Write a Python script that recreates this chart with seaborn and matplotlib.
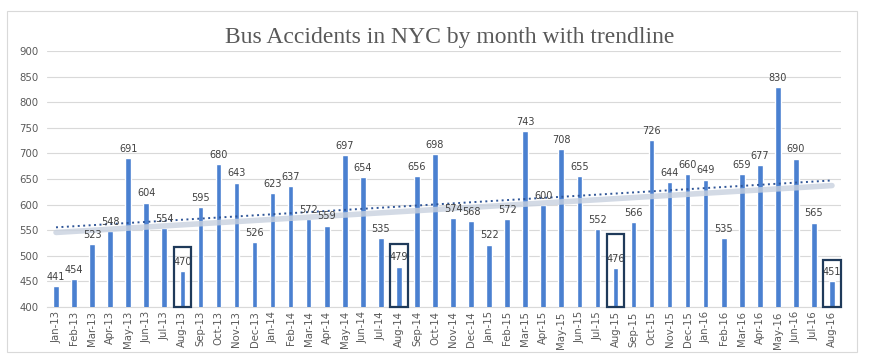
import numpy as np
import pandas as pd
import matplotlib.pyplot as plt
import seaborn as sns
from matplotlib.patches import Rectangle

# monthly bus accidents, Jan-13 .. Aug-16
months = [
    "Jan-13", "Feb-13", "Mar-13", "Apr-13", "May-13", "Jun-13", "Jul-13", "Aug-13",
    "Sep-13", "Oct-13", "Nov-13", "Dec-13",
    "Jan-14", "Feb-14", "Mar-14", "Apr-14", "May-14", "Jun-14", "Jul-14", "Aug-14",
    "Sep-14", "Oct-14", "Nov-14", "Dec-14",
    "Jan-15", "Feb-15", "Mar-15", "Apr-15", "May-15", "Jun-15", "Jul-15", "Aug-15",
    "Sep-15", "Oct-15", "Nov-15", "Dec-15",
    "Jan-16", "Feb-16", "Mar-16", "Apr-16", "May-16", "Jun-16", "Jul-16", "Aug-16",
]
accidents = [
    441, 454, 523, 548, 691, 604, 554, 470, 595, 680, 643, 526,
    623, 637, 572, 559, 697, 654, 535, 479, 656, 698, 574, 568,
    522, 572, 743, 600, 708, 655, 552, 476, 566, 726, 644, 660,
    649, 535, 659, 677, 830, 690, 565, 451,
]
# August months get a box around them
highlight_months = ["Aug-13", "Aug-14", "Aug-15", "Aug-16"]
highlight_tops = [518, 523, 543, 491]

yticks = list(range(400, 901, 50))

df = pd.DataFrame({"month": months, "accidents": accidents})

sns.set_style("white")
plt.rcParams["font.family"] = ["DejaVu Sans"]

fig = plt.figure(figsize=(8.76, 3.61), dpi=100)
ax = fig.add_axes([47 / 876, 1 - 307 / 361, (841 - 47) / 876, (307 - 51) / 361])

bar_color = "#4a80d0"
sns.barplot(data=df, x="month", y="accidents", color=bar_color, width=0.31,
            saturation=1, ax=ax, zorder=3)

ax.set_ylim(400, 900)
ax.set_xlim(-0.5, len(months) - 0.5)
ax.set_yticks(yticks)
ax.grid(axis="y", color="#d9d9d9", linewidth=0.8, zorder=0)
ax.set_axisbelow(True)
for s in ["top", "right", "left"]:
    ax.spines[s].set_visible(False)
ax.spines["bottom"].set_color("#d9d9d9")
ax.set_xlabel("")
ax.set_ylabel("")
ax.tick_params(axis="x", labelrotation=90, labelsize=7.3, colors="#595959",
               length=0, pad=3)
ax.tick_params(axis="y", labelsize=7.3, colors="#595959", length=0, pad=6)
# little tick marks between categories
ax.set_xticks(np.arange(-0.5, len(months), 1), minor=True)
ax.tick_params(axis="x", which="minor", length=3, color="#d9d9d9")

# data labels
for i, v in enumerate(accidents):
    ax.text(i, v + 8, str(v), ha="center", va="bottom", fontsize=7,
            color="#404040", zorder=5)

# linear trendline
xs = np.arange(len(accidents))
slope, intercept = np.polyfit(xs, accidents, 1)
trend = slope * xs + intercept
ax.plot(xs, trend - 10, color="#c8d1df", linewidth=4, alpha=0.8,
        solid_capstyle="round", zorder=4)
ax.plot(xs, trend, color="#2f5597", linewidth=1.4, linestyle=(0, (1, 1.8)),
        zorder=4)

# boxes around Augusts
for m, top in zip(highlight_months, highlight_tops):
    i = months.index(m)
    ax.add_patch(Rectangle((i - 0.48, 400), 0.96, top - 400, fill=False,
                           edgecolor="#1f3a5a", linewidth=1.6, zorder=6,
                           clip_on=False))

fig.text(450 / 876, 1 - 38 / 361, "Bus Accidents in NYC by month with trendline",
         ha="center", va="center", fontsize=17, color="#595959",
         family=["Liberation Serif", "DejaVu Serif"])

# chart frame
fig.patches.append(Rectangle((7 / 876, 1 - 352 / 361), 850 / 876, 341 / 361,
                             transform=fig.transFigure, fill=False,
                             edgecolor="#d9d9d9", linewidth=0.8))

fig.savefig("out.png", dpi=100)
